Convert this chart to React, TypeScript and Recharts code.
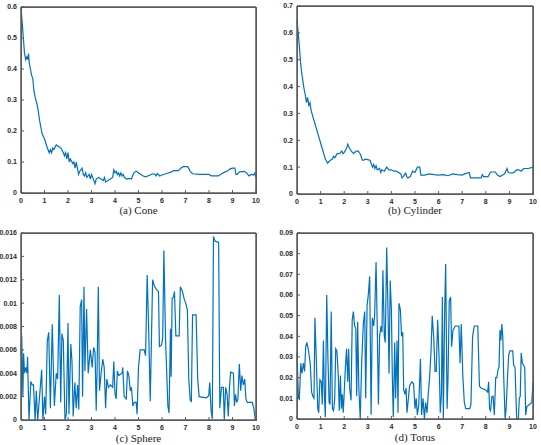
import { Line, LineChart, ReferenceArea, XAxis, YAxis } from "recharts";

// x axis is shared by all four panels
const X_TICKS = [0, 1, 2, 3, 4, 5, 6, 7, 8, 9, 10];

// (a) Cone
const coneX = [
  0, 0.05, 0.1, 0.15, 0.2, 0.25, 0.3, 0.32, 0.35, 0.4,
  0.45, 0.5, 0.55, 0.6, 0.7, 0.8, 0.9, 1.0, 1.1, 1.2,
  1.25, 1.3, 1.35, 1.4, 1.5, 1.6, 1.7, 1.8, 1.85, 1.9,
  1.95, 2.0, 2.05, 2.1, 2.2, 2.25, 2.3, 2.35, 2.4, 2.45,
  2.5, 2.6, 2.65, 2.7, 2.75, 2.8, 2.9, 2.95, 3.0, 3.05,
  3.1, 3.15, 3.2, 3.3, 3.4, 3.5, 3.55, 3.6, 3.7, 3.8,
  3.9, 3.95, 4.0, 4.05, 4.1, 4.15, 4.2, 4.25, 4.3, 4.35,
  4.4, 4.5, 4.6, 4.7, 4.8, 4.9, 5.0, 5.1, 5.2, 5.3,
  5.5, 5.6, 5.7, 5.75, 5.8, 5.9, 6.0, 6.2, 6.4, 6.5,
  6.7, 6.8, 6.9, 7.1, 7.2, 7.3, 7.6, 8.0, 8.1, 8.4,
  8.6, 8.8, 8.9, 9.0, 9.1, 9.15, 9.2, 9.3, 9.5, 9.6,
  9.7, 9.8, 9.9, 9.95, 10,
];
const coneY = [
  0.6, 0.55, 0.5, 0.45, 0.43, 0.44, 0.43, 0.45, 0.42, 0.4,
  0.38, 0.37, 0.33, 0.31, 0.28, 0.23, 0.19, 0.175, 0.15, 0.13,
  0.14, 0.13, 0.145, 0.14, 0.155, 0.15, 0.145, 0.13, 0.12, 0.13,
  0.11, 0.13, 0.1, 0.11, 0.095, 0.1, 0.08, 0.1, 0.08, 0.06,
  0.07, 0.08, 0.06, 0.055, 0.065, 0.05, 0.06, 0.045, 0.06, 0.05,
  0.04, 0.03, 0.045, 0.05, 0.045, 0.04, 0.05, 0.035, 0.04, 0.045,
  0.05, 0.075, 0.065, 0.07, 0.06, 0.065, 0.055, 0.065, 0.055, 0.06,
  0.05, 0.045, 0.047, 0.045, 0.065, 0.07, 0.065, 0.06, 0.055, 0.052,
  0.058, 0.062, 0.06, 0.055, 0.063, 0.055, 0.058, 0.063, 0.068, 0.072,
  0.072, 0.08, 0.085, 0.085, 0.07, 0.062, 0.06, 0.06, 0.055, 0.055,
  0.065, 0.072, 0.078, 0.08, 0.08, 0.06, 0.06, 0.068, 0.07, 0.065,
  0.055, 0.06, 0.058, 0.065, 0.05,
];
const coneTicks = [0, 0.1, 0.2, 0.3, 0.4, 0.5, 0.6];

// (b) Cylinder
const cylX = [
  0, 0.05, 0.1, 0.15, 0.2, 0.25, 0.3, 0.35, 0.4, 0.45,
  0.5, 0.55, 0.6, 0.7, 0.8, 0.9, 1.0, 1.1, 1.2, 1.3,
  1.35, 1.4, 1.5, 1.55, 1.6, 1.7, 1.8, 1.9, 1.95, 2.0,
  2.1, 2.15, 2.2, 2.3, 2.4, 2.5, 2.6, 2.7, 2.75, 2.8,
  2.9, 3.0, 3.1, 3.2, 3.25, 3.3, 3.35, 3.4, 3.5, 3.55,
  3.6, 3.7, 3.8, 3.9, 4.0, 4.1, 4.2, 4.3, 4.4, 4.45,
  4.5, 4.6, 4.65, 4.7, 4.8, 4.9, 5.0, 5.1, 5.2, 5.25,
  5.4, 5.6, 5.8, 6.0, 6.2, 6.4, 6.6, 6.8, 7.0, 7.1,
  7.3, 7.35, 7.6, 7.8, 7.85, 7.9, 8.1, 8.2, 8.4, 8.5,
  8.6, 8.7, 8.8, 8.9, 8.95, 9.1, 9.2, 9.3, 9.4, 9.5,
  9.6, 9.8, 10,
];
const cylY = [
  0.65, 0.6, 0.55, 0.49, 0.45, 0.42, 0.39, 0.37, 0.34, 0.36,
  0.33, 0.34, 0.31, 0.28, 0.25, 0.22, 0.19, 0.16, 0.13, 0.115,
  0.12, 0.125, 0.13, 0.14, 0.135, 0.15, 0.15, 0.16, 0.15, 0.155,
  0.17, 0.185, 0.175, 0.16, 0.15, 0.16, 0.16, 0.145, 0.13, 0.125,
  0.13, 0.128, 0.125, 0.1, 0.11, 0.095, 0.105, 0.09, 0.095, 0.08,
  0.09, 0.085, 0.1, 0.09, 0.09, 0.085, 0.085, 0.08, 0.075, 0.06,
  0.065, 0.078, 0.065, 0.06, 0.065, 0.085, 0.08, 0.1, 0.1, 0.07,
  0.07, 0.075, 0.072, 0.07, 0.072, 0.068, 0.075, 0.072, 0.07, 0.075,
  0.08, 0.06, 0.06, 0.06, 0.072, 0.065, 0.065, 0.082, 0.082, 0.07,
  0.065, 0.07, 0.075, 0.095, 0.08, 0.078, 0.08, 0.09, 0.09, 0.085,
  0.095, 0.095, 0.1,
];
const cylTicks = [0, 0.1, 0.2, 0.3, 0.4, 0.5, 0.6, 0.7];

// (c) Sphere
const sphereX = [
  0, 0.03, 0.08, 0.11, 0.15, 0.2, 0.25, 0.28, 0.34, 0.42,
  0.48, 0.53, 0.6, 0.65, 0.71, 0.79, 0.88, 0.93, 1.0, 1.05,
  1.12, 1.18, 1.25, 1.33, 1.42, 1.5, 1.56, 1.63, 1.69, 1.74,
  1.8, 1.87, 1.93, 2.0, 2.04, 2.12, 2.17, 2.22, 2.29, 2.35,
  2.41, 2.46, 2.52, 2.58, 2.62, 2.68, 2.72, 2.79, 2.86, 2.95,
  3.03, 3.09, 3.15, 3.2, 3.24, 3.29, 3.34, 3.41, 3.48, 3.54,
  3.6, 3.65, 3.72, 3.8, 3.9, 3.95, 4.0, 4.05, 4.1, 4.16,
  4.3, 4.33, 4.39, 4.48, 4.53, 4.59, 4.65, 4.7, 4.76, 4.82,
  4.9, 4.94, 5.0, 5.07, 5.24, 5.3, 5.37, 5.43, 5.5, 5.6,
  5.67, 5.75, 5.85, 5.89, 5.98, 6.03, 6.08, 6.15, 6.25, 6.3,
  6.36, 6.39, 6.43, 6.49, 6.53, 6.59, 6.73, 6.78, 6.87, 6.95,
  7.01, 7.08, 7.14, 7.2, 7.25, 7.3, 7.45, 7.52, 7.58, 7.9,
  7.99, 8.03, 8.09, 8.14, 8.19, 8.26, 8.41, 8.46, 8.53, 8.61,
  8.65, 8.71, 8.77, 8.82, 8.87, 8.92, 9.04, 9.08, 9.13, 9.18,
  9.23, 9.29, 9.35, 9.4, 9.46, 9.52, 9.57, 9.63, 9.84, 9.91,
  9.97, 10,
];
const sphereY = [
  0.0055, 0.0072, 0.002, 0.0057, 0.004, 0.0045, 0.004, 0.0054, 0, 0.0033,
  0.003, 0.003, 0, 0.0025, 0, 0.002, 0.0043, 0, 0.002, 0.0005,
  0.0068, 0.0075, 0.001, 0.0082, 0.0012, 0.004, 0.0035, 0.0107, 0.0015, 0.0074,
  0.0068, 0, 0.0005, 0.0083, 0.0005, 0.0065, 0.005, 0.0003, 0.0032, 0.001,
  0.003, 0.0009, 0.0097, 0.0103, 0.002, 0.0114, 0.0042, 0.0095, 0.004, 0.006,
  0.0045, 0.0062, 0.0058, 0.0008, 0.0045, 0.0114, 0.0025, 0.004, 0.0052, 0.0045,
  0.001, 0.0035, 0.0028, 0.003, 0.0028, 0.005, 0.0022, 0.0018, 0.0042, 0.0038,
  0.004, 0.0045, 0.002, 0.0018, 0.0042, 0.0038, 0.0025, 0.0028, 0.0012, 0.0015,
  0.0015, 0.0005, 0.0045, 0.006, 0.006, 0.0055, 0.0124, 0.008, 0.0016, 0.012,
  0.0115, 0.0112, 0.011, 0.0063, 0.0064, 0.007, 0.0145, 0.007, 0.0012, 0.0006,
  0.0078, 0.0037, 0.0104, 0.0105, 0.011, 0.0072, 0.0072, 0.0114, 0.011, 0.0103,
  0.01, 0.0094, 0.0035, 0.0017, 0.0016, 0.009, 0.009, 0.0035, 0.002, 0.0019,
  0.0021, 0.0032, 0.0008, 0.0001, 0.0157, 0.0153, 0.0152, 0.001, 0.0028, 0.0028,
  0, 0.0028, 0.0022, 0.0003, 0.0028, 0.0041, 0.004, 0.0012, 0.0022, 0.0015,
  0.0018, 0.0048, 0.0025, 0.0038, 0.003, 0.0035, 0.0018, 0.0015, 0.0015, 0.001,
  0, 0,
];
const sphereTicks = [0, 0.002, 0.004, 0.006, 0.008, 0.01, 0.012, 0.014, 0.016];

// (d) Torus
const torusX = [
  0, 0.06, 0.1, 0.16, 0.21, 0.27, 0.32, 0.37, 0.42, 0.49,
  0.56, 0.62, 0.67, 0.72, 0.76, 0.82, 0.88, 0.92, 0.97, 1.03,
  1.07, 1.12, 1.16, 1.2, 1.26, 1.31, 1.36, 1.4, 1.45, 1.5,
  1.55, 1.6, 1.64, 1.69, 1.75, 1.79, 1.84, 1.88, 1.92, 1.96,
  2.05, 2.1, 2.15, 2.19, 2.23, 2.29, 2.34, 2.39, 2.44, 2.49,
  2.53, 2.57, 2.62, 2.68, 2.74, 2.81, 2.87, 2.91, 2.97, 3.02,
  3.08, 3.14, 3.19, 3.25, 3.29, 3.35, 3.4, 3.45, 3.5, 3.56,
  3.6, 3.64, 3.7, 3.74, 3.8, 3.86, 3.9, 3.95, 4.0, 4.04,
  4.08, 4.14, 4.18, 4.24, 4.28, 4.32, 4.38, 4.43, 4.48, 4.52,
  4.58, 4.62, 4.66, 4.72, 4.77, 4.86, 4.94, 5.0, 5.05, 5.1,
  5.16, 5.23, 5.28, 5.34, 5.4, 5.45, 5.51, 5.56, 5.62, 5.68,
  5.73, 5.79, 5.85, 5.9, 5.96, 6.02, 6.07, 6.12, 6.16, 6.2,
  6.26, 6.3, 6.36, 6.4, 6.45, 6.51, 6.55, 6.61, 6.71, 6.86,
  6.91, 6.96, 7.03, 7.09, 7.15, 7.32, 7.37, 7.44, 7.51, 7.66,
  7.73, 7.8, 8.0, 8.08, 8.12, 8.16, 8.2, 8.26, 8.31, 8.36,
  8.42, 8.47, 8.52, 8.56, 8.6, 8.64, 8.68, 8.72, 8.76, 8.82,
  8.86, 8.92, 8.97, 9.02, 9.14, 9.18, 9.24, 9.28, 9.31, 9.38,
  9.42, 9.46, 9.5, 9.55, 9.6, 9.65, 9.69, 9.74, 9.85, 9.95,
  10,
];
const torusY = [
  0.032, 0.01, 0.0095, 0.027, 0.022, 0.027, 0.023, 0.035, 0.037, 0.033,
  0.027, 0.013, 0.011, 0.01, 0.049, 0.028, 0.005, 0.003, 0.019, 0.018,
  0.007, 0.038, 0.012, 0.001, 0.06, 0.03, 0.008, 0.007, 0.052, 0.005,
  0.004, 0.01, 0.034, 0.033, 0.021, 0.004, 0.021, 0.005, 0.012, 0.003,
  0.025, 0.034, 0.018, 0.034, 0.015, 0.009, 0.048, 0.052, 0.045, 0.044,
  0.011, 0.047, 0.015, 0, 0.027, 0.046, 0.052, 0.01, 0.055, 0.06,
  0.069, 0.002, 0.049, 0.045, 0.05, 0.076, 0.045, 0.007, 0.04, 0.045,
  0.042, 0.072, 0.04, 0.037, 0.083, 0.05, 0.022, 0.067, 0.053, 0.02,
  0.001, 0.037, 0.01, 0.038, 0.003, 0.056, 0.053, 0.04, 0.042, 0.014,
  0.012, 0.015, 0.003, 0.01, 0.016, 0.018, 0.017, 0.005, 0.01, 0.002,
  0.007, 0.029, 0.002, 0.01, 0, 0.008, 0.003, 0.012, 0.02, 0.033,
  0.05, 0.04, 0.023, 0.023, 0.048, 0.03, 0.003, 0.012, 0.059, 0,
  0.054, 0.075, 0.005, 0.02, 0.057, 0.059, 0.035, 0.043, 0.045, 0.045,
  0.027, 0.046, 0.02, 0.008, 0.005, 0.005, 0.007, 0.04, 0.045, 0.045,
  0.016, 0.015, 0.014, 0.013, 0.018, 0.005, 0.004, 0.011, 0.011, 0.002,
  0.02, 0.02, 0.024, 0.025, 0.043, 0.038, 0.046, 0.04, 0.02, 0,
  0.005, 0.02, 0.031, 0.033, 0.033, 0.026, 0.025, 0.01, 0, 0,
  0.01, 0.011, 0.032, 0.027, 0.026, 0.025, 0.002, 0.006, 0.007, 0.008,
  0.018,
];
const torusTicks = [0, 0.01, 0.02, 0.03, 0.04, 0.05, 0.06, 0.07, 0.08, 0.09];

const BLUE = "#0072BD";
const AXIS = "#5a5a5a";
const TICK_STYLE = {
  fontSize: 7,
  fill: "#2b2b2b",
  fontFamily: "'Liberation Sans', Arial, sans-serif",
  fontWeight: 700,
};

type PanelProps = {
  xs: number[];
  ys: number[];
  yTicks: number[];
  left: number;
  top: number;
  width: number;
  height: number;
  marginTop: number;
  marginRight: number;
  caption: string;
  captionTop: number;
};

function Panel({ xs, ys, yTicks, left, top, width, height, marginTop, marginRight, caption, captionTop }: PanelProps) {
  const data = xs.map((x, i) => ({ x, y: ys[i] }));
  const yMax = yTicks[yTicks.length - 1];
  // plot box: 21px y-axis on the left, 1px axes on top/right, 18px x-axis below
  const plotLeft = left + 21;
  const plotTop = top + marginTop + 1;
  const plotW = width - 21 - marginRight - 1;
  const plotH = height - 18 - marginTop - 1;
  return (
    <>
      <div style={{ position: "absolute", left, top }}>
        <LineChart width={width} height={height} data={data} margin={{ top: marginTop, right: marginRight, bottom: 0, left: 0 }}>
          <XAxis
            dataKey="x"
            type="number"
            domain={[0, 10]}
            ticks={X_TICKS}
            interval={0}
            height={18}
            tickSize={-3}
            tickMargin={8}
            stroke={AXIS}
            tick={TICK_STYLE}
          />
          <XAxis
            xAxisId="top"
            dataKey="x"
            orientation="top"
            type="number"
            domain={[0, 10]}
            ticks={X_TICKS}
            height={1}
            tickSize={-3}
            tick={false}
            stroke={AXIS}
          />
          <YAxis
            type="number"
            domain={[0, yMax]}
            ticks={yTicks}
            interval={0}
            width={21}
            tickSize={-3}
            tickMargin={7}
            stroke={AXIS}
            tick={TICK_STYLE}
          />
          <YAxis
            yAxisId="right"
            orientation="right"
            type="number"
            domain={[0, yMax]}
            ticks={yTicks}
            width={1}
            tickSize={-3}
            tick={false}
            stroke={AXIS}
          />
          <ReferenceArea x1={0} x2={10} y1={0} y2={yMax} fill="none" stroke={AXIS} strokeOpacity={1} ifOverflow="visible" />
          <Line dataKey="y" type="linear" stroke={BLUE} strokeWidth={1.2} dot={false} isAnimationActive={false} />
          <Line xAxisId="top" yAxisId="right" dataKey="y" stroke="none" dot={false} isAnimationActive={false} />
        </LineChart>
      </div>
      <div
        style={{
          position: "absolute",
          left: plotLeft,
          top: plotTop,
          width: plotW + 1,
          height: plotH + 1,
          boxSizing: "border-box",
          border: `1px solid ${AXIS}`,
          pointerEvents: "none",
        }}
      />
      <div
        style={{
          position: "absolute",
          left: plotLeft,
          top: captionTop,
          width: plotW,
          textAlign: "center",
          fontFamily: "'Liberation Serif', 'Times New Roman', serif",
          fontSize: 11,
          color: "#222",
          lineHeight: "11px",
        }}
      >
        {caption}
      </div>
    </>
  );
}

export default function App() {
  return (
    <div style={{ position: "absolute", left: 0, top: 0, width: 541, height: 445 }}>
      <Panel xs={coneX} ys={coneY} yTicks={coneTicks} left={0} top={0} width={262} height={211} marginTop={6} marginRight={5} caption="(a) Cone" captionTop={205} />
      <Panel xs={cylX} ys={cylY} yTicks={cylTicks} left={276} top={0} width={262} height={212} marginTop={5} marginRight={4} caption="(b) Cylinder" captionTop={205} />
      <Panel xs={sphereX} ys={sphereY} yTicks={sphereTicks} left={0} top={226} width={262} height={212} marginTop={6} marginRight={5} caption="(c) Sphere" captionTop={433} />
      <Panel xs={torusX} ys={torusY} yTicks={torusTicks} left={276} top={226} width={262} height={211} marginTop={6} marginRight={4} caption="(d) Torus" captionTop={432} />
    </div>
  );
}
